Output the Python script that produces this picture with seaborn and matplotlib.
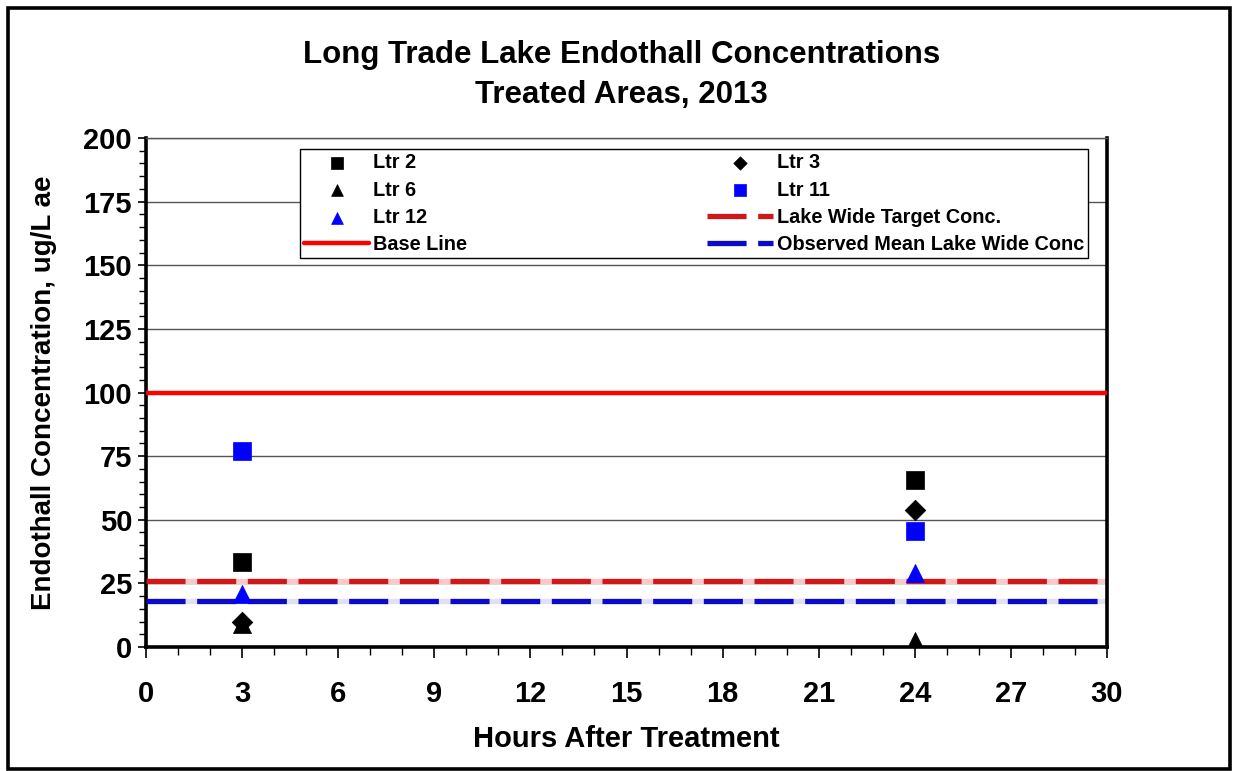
import pandas as pd
import seaborn as sns
import matplotlib.pyplot as plt
from matplotlib.patches import Rectangle
from matplotlib.ticker import MultipleLocator

# Values
hours = [3, 24]
ltr2 = [33.5, 65.5]
ltr3 = [10.0, 54.0]
ltr6 = [9.0, 2.5]
ltr11 = [77.0, 45.5]
ltr12 = [21.0, 29.0]
base_line = 100
target_conc = 26
observed_mean = 18

df = pd.DataFrame({
    'Hours': hours * 5,
    'Conc': ltr2 + ltr3 + ltr6 + ltr11 + ltr12,
    'Site': ['Ltr 2'] * 2 + ['Ltr 3'] * 2 + ['Ltr 6'] * 2 + ['Ltr 11'] * 2 + ['Ltr 12'] * 2,
})

sns.set_style("white")
plt.rcParams['font.family'] = ['Liberation Sans', 'DejaVu Sans']
plt.rcParams['font.weight'] = 'bold'
plt.rcParams['text.color'] = 'black'
plt.rcParams['axes.labelcolor'] = 'black'
plt.rcParams['xtick.color'] = 'black'
plt.rcParams['ytick.color'] = 'black'

fig = plt.figure(figsize=(12.35, 7.71), dpi=100)
ax = fig.add_axes([146 / 1235, 1 - 647 / 771, 961 / 1235, 509 / 771])

# marker style for each site
styles = {
    'Ltr 2': ('s', 'black', 150),
    'Ltr 3': ('D', 'black', 110),
    'Ltr 6': ('^', 'black', 170),
    'Ltr 11': ('s', '#0000FF', 150),
    'Ltr 12': ('^', '#0000FF', 170),
}
for site, (mk, col, size) in styles.items():
    sns.scatterplot(data=df[df['Site'] == site], x='Hours', y='Conc', marker=mk,
                    color=col, s=size, edgecolor=col, linewidth=0.5,
                    label=site, ax=ax, zorder=4)

# reference lines
ax.axhline(base_line, color='#FF0000', lw=3.2, label='Base Line', zorder=3)
ax.axhline(target_conc, color='#FFC8C8', lw=3.8, zorder=2)
ax.axhline(target_conc, color='#D01818', lw=3.8, dashes=(7.4, 2.2),
           label='Lake Wide Target Conc.', zorder=3)
ax.axhline(observed_mean, color='#E0E0F8', lw=3.8, zorder=2)
ax.axhline(observed_mean, color='#0A0AC8', lw=3.8, dashes=(7.4, 2.2),
           label='Observed Mean Lake Wide Conc', zorder=3)

ax.set_xlim(0, 30)
ax.set_ylim(0, 200)
ax.xaxis.set_major_locator(MultipleLocator(3))
ax.xaxis.set_minor_locator(MultipleLocator(1))
ax.yaxis.set_major_locator(MultipleLocator(25))
ax.yaxis.set_minor_locator(MultipleLocator(5))
ax.grid(axis='y', which='major', color='#555555', lw=1.0)
ax.grid(axis='x', visible=False)

for side in ['left', 'bottom', 'right']:
    ax.spines[side].set_color('black')
    ax.spines[side].set_linewidth(2.6)
ax.spines['top'].set_color('#555555')
ax.spines['top'].set_linewidth(1.0)

ax.tick_params(axis='both', which='both', direction='out', color='black',
               bottom=True, left=True)
ax.tick_params(axis='x', which='major', length=8, width=1.2, pad=16, labelsize=21)
ax.tick_params(axis='x', which='minor', length=6, width=1.0)
ax.tick_params(axis='y', which='major', length=6, width=1.2, pad=4, labelsize=21)
ax.tick_params(axis='y', which='minor', length=5, width=1.0)
for lbl in ax.get_xticklabels() + ax.get_yticklabels():
    lbl.set_fontweight('bold')

ax.set_xlabel('Hours After Treatment', fontsize=21, fontweight='bold', labelpad=12)
ax.set_ylabel('Endothall Concentration, ug/L ae', fontsize=20, fontweight='bold', labelpad=19)

# titles
fig.text(0.503, 1 - 55 / 771, 'Long Trade Lake Endothall Concentrations',
         ha='center', va='center', fontsize=22.5, fontweight='bold')
fig.text(0.503, 1 - 95 / 771, 'Treated Areas, 2013',
         ha='center', va='center', fontsize=22.5, fontweight='bold')

# legend, row-wise order in two columns
handles, labels = ax.get_legend_handles_labels()
lookup = dict(zip(labels, handles))
order = ['Ltr 2', 'Ltr 6', 'Ltr 12', 'Base Line',
         'Ltr 3', 'Ltr 11', 'Lake Wide Target Conc.', 'Observed Mean Lake Wide Conc']
leg = ax.legend([lookup[k] for k in order], order, ncol=2, mode='expand',
                loc='upper left', bbox_to_anchor=(0.160, 0.758, 0.82, 0.22),
                frameon=True, fancybox=False, framealpha=1,
                edgecolor='black', handlelength=3.3, handletextpad=0.2,
                labelspacing=0.42, borderaxespad=0, borderpad=0.2,
                scatterpoints=1, markerscale=0.65,
                prop={'weight': 'bold', 'size': 14.3})
leg.get_frame().set_linewidth(1.0)
leg.set_zorder(5)

# outer border of the chart
fig.add_artist(Rectangle((8 / 1235, 2 / 771), 1222 / 1235, 761 / 771,
                         transform=fig.transFigure, fill=False,
                         edgecolor='black', lw=2.6))

fig.savefig('out.png', dpi=100)
